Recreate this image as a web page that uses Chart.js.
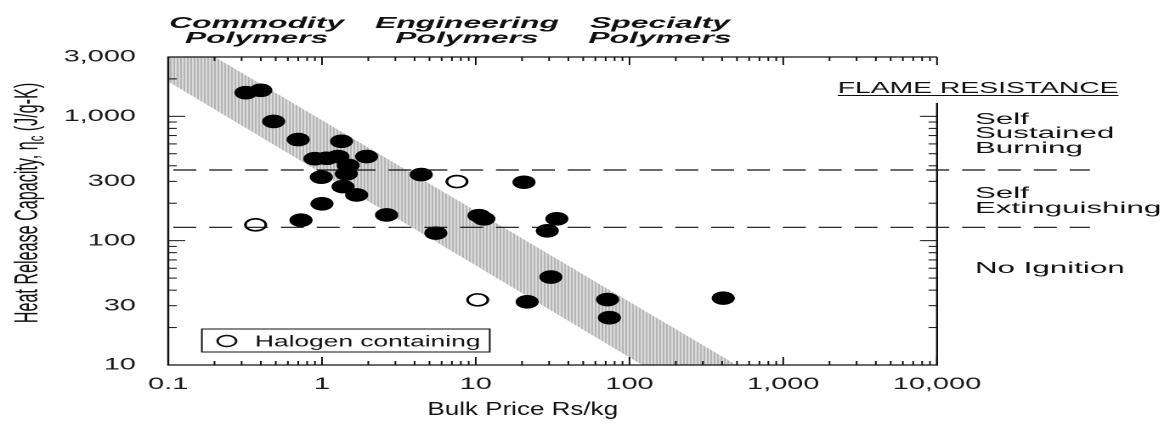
<!DOCTYPE html>
<html>
<head>
<meta charset="utf-8">
<script src="https://cdn.jsdelivr.net/npm/chart.js@4.4.1/dist/chart.umd.min.js"></script>
<style>
  html, body { margin: 0; padding: 0; background: #fff; overflow: hidden; }
  /* the reference picture is stretched sideways, so the chart is drawn narrow and widened */
  #wrap { width: 685px; height: 425px; transform: scaleX(1.6993); transform-origin: 0 0; }
</style>
</head>
<body>
<div id="wrap"><canvas id="chart"></canvas></div>
<script>
// polymers: bulk price (Rs/kg) vs heat release capacity (J/g-K)
const filledPoints = [
  {x: 0.32, y: 1550}, {x: 0.40, y: 1620}, {x: 0.485, y: 910}, {x: 0.70, y: 650},
  {x: 1.34, y: 630}, {x: 0.90, y: 456}, {x: 1.07, y: 460}, {x: 1.27, y: 475},
  {x: 1.95, y: 475}, {x: 1.48, y: 403}, {x: 1.44, y: 345}, {x: 0.99, y: 324},
  {x: 4.42, y: 340}, {x: 1.37, y: 272}, {x: 1.68, y: 233}, {x: 1.0, y: 198},
  {x: 2.63, y: 161}, {x: 0.73, y: 146}, {x: 5.5, y: 115}, {x: 20.6, y: 295},
  {x: 10.5, y: 159}, {x: 11.3, y: 150}, {x: 33.7, y: 150}, {x: 29.2, y: 120},
  {x: 30.8, y: 51}, {x: 21.6, y: 32.2}, {x: 72, y: 33.6}, {x: 74, y: 24},
  {x: 407, y: 34.5}
];
const halogenPoints = [{x: 0.37, y: 134}, {x: 7.55, y: 299}, {x: 10.3, y: 33.4}];
const halogenLabel = 'Halogen containing';

// shaded price/performance band
const bandUpper = [{x: 0.1, y: 5000}, {x: 1000, y: 6}];
const bandLower = [{x: 0.1, y: 1900}, {x: 1000, y: 2.1}];

// flame resistance thresholds
const thresholds = [370, 128];

const xTicks = [0.1, 1, 10, 100, 1000, 10000];
const xTickLabels = ['0.1', '1', '10', '100', '1,000', '10,000'];
const yTicks = [10, 30, 100, 300, 1000, 3000];
const yTickLabels = ['10', '30', '100', '300', '1,000', '3,000'];

const classNames = [['Commodity', 'Polymers'], ['Engineering', 'Polymers'], ['Specialty', 'Polymers']];
const zoneTitle = 'FLAME RESISTANCE';
const zoneLines = ['Self', 'Sustained', 'Burning', 'Self', 'Extinguishing', 'No Ignition'];
const xTitle = 'Bulk Price Rs/kg';
const yTitle = ['Heat Release Capacity, η', 'c', ' (J/g-K)'];

const FONT = '"Liberation Sans", Arial, sans-serif';
Chart.defaults.font.family = FONT;
Chart.defaults.color = '#1a1a1a';

function stripes() {
  const c = document.createElement('canvas');
  c.width = 2; c.height = 1;
  const g = c.getContext('2d');
  g.fillStyle = '#ececec'; g.fillRect(0, 0, 2, 1);
  g.fillStyle = '#a2a2a2'; g.fillRect(0, 0, 1, 1);
  return g.createPattern(c, 'repeat');
}

function logTicks(lo, hi) {
  const out = [];
  for (let e = Math.floor(Math.log10(lo)); e <= Math.ceil(Math.log10(hi)); e++) {
    for (let m = 1; m <= 9; m++) {
      const v = m * Math.pow(10, e);
      if (v >= lo * 0.999 && v <= hi * 1.001) out.push({v: v, major: m === 1});
    }
  }
  return out;
}

function text(ctx, s, x, y, font, sx, align) {
  ctx.save();
  ctx.font = font;
  ctx.textAlign = align || 'left';
  ctx.textBaseline = 'alphabetic';
  ctx.translate(x, y);
  ctx.scale(sx, 1);
  ctx.fillText(s, 0, 0);
  ctx.restore();
}

function seg(ctx, x1, y1, x2, y2) {
  ctx.beginPath(); ctx.moveTo(x1, y1); ctx.lineTo(x2, y2); ctx.stroke();
}

const decor = {
  id: 'decor',
  afterDraw(chart) {
    const ctx = chart.ctx, a = chart.chartArea, x = chart.scales.x, y = chart.scales.y;
    const rightTop = 103;
    ctx.save();
    ctx.strokeStyle = '#111';
    ctx.fillStyle = '#111';
    ctx.lineWidth = 1.2;

    // dashed threshold lines run past the right axis
    ctx.setLineDash([13.5, 7.6]);
    thresholds.forEach(v => {
      const py = y.getPixelForValue(v);
      seg(ctx, a.left + 3, py, a.right + 90, py);
    });
    ctx.setLineDash([]);

    // frame, right side broken under the heading
    ctx.beginPath();
    ctx.moveTo(a.right, a.top); ctx.lineTo(a.left, a.top); ctx.lineTo(a.left, a.bottom);
    ctx.lineTo(a.right, a.bottom); ctx.lineTo(a.right, rightTop);
    ctx.stroke();

    ctx.lineWidth = 1;
    logTicks(x.min, x.max).forEach(t => {
      const px = x.getPixelForValue(t.v), len = t.major ? 8 : 4;
      seg(ctx, px, a.bottom, px, a.bottom - len);
      seg(ctx, px, a.top, px, a.top + len);
    });
    logTicks(y.min, y.max).forEach(t => {
      const py = y.getPixelForValue(t.v), len = t.major ? 10 : 5;
      seg(ctx, a.left, py, a.left + len, py);
      if (py > rightTop) seg(ctx, a.right, py, a.right - len, py);
    });

    // polymer class headings
    const hf = 'italic bold 16px ' + FONT;
    [151, 274.8, 388.4].forEach((cx, i) => {
      text(ctx, classNames[i][0], cx, 28, hf, 1.17, 'center');
      text(ctx, classNames[i][1], cx, 43, hf, 1.17, 'center');
    });

    // flame resistance zones
    const tf = '16px ' + FONT;
    text(ctx, zoneTitle, 493, 93, tf, 1.04);
    ctx.font = tf;
    const tw = ctx.measureText(zoneTitle).width * 1.04;
    seg(ctx, 493, 95.5, 493 + tw, 95.5);
    const zf = '15.5px ' + FONT;
    [124, 138, 153, 198, 213, 273].forEach((by, i) => text(ctx, zoneLines[i], 573.7, by, zf, 1.19));

    // legend
    ctx.lineWidth = 1;
    ctx.strokeRect(118.8, 329, 169.4, 23);
    ctx.beginPath();
    ctx.arc(133.5, 341, 5.5, 0, Math.PI * 2);
    ctx.fillStyle = '#fff'; ctx.fill();
    ctx.lineWidth = 1.4; ctx.stroke();
    ctx.fillStyle = '#111';
    text(ctx, chart.data.datasets[3].label, 150, 346.5, '15.5px ' + FONT, 1.0);

    // axis titles
    text(ctx, xTitle, 307.6, 415, '18px ' + FONT, 0.85, 'center');

    ctx.save();
    ctx.translate(21.8, 203);
    ctx.rotate(-Math.PI / 2);
    ctx.scale(0.85, 1);
    const big = '19px ' + FONT, small = '13px ' + FONT;
    ctx.font = big; const w1 = ctx.measureText(yTitle[0]).width, w3 = ctx.measureText(yTitle[2]).width;
    ctx.font = small; const w2 = ctx.measureText(yTitle[1]).width;
    let sx = -(w1 + w2 + w3) / 2;
    ctx.textBaseline = 'alphabetic';
    ctx.font = big; ctx.fillText(yTitle[0], sx, 0); sx += w1;
    ctx.font = small; ctx.fillText(yTitle[1], sx, 3.5); sx += w2;
    ctx.font = big; ctx.fillText(yTitle[2], sx, 0);
    ctx.restore();

    ctx.restore();
  }
};

new Chart(document.getElementById('chart'), {
  type: 'scatter',
  data: {
    datasets: [
      {
        type: 'line', data: bandUpper, order: 10, pointRadius: 0, borderWidth: 0,
        fill: '+1', backgroundColor: stripes()
      },
      {
        type: 'line', data: bandLower, order: 11, pointRadius: 0, borderWidth: 0, fill: false
      },
      {
        data: filledPoints, order: 1, pointRadius: 6.8, borderWidth: 0,
        backgroundColor: '#000'
      },
      {
        label: halogenLabel, data: halogenPoints, order: 0, pointRadius: 6,
        borderWidth: 1.6, borderColor: '#000', backgroundColor: '#fff'
      }
    ]
  },
  options: {
    responsive: true,
    maintainAspectRatio: false,
    animation: false,
    devicePixelRatio: 2,
    events: [],
    layout: { padding: { top: 57, right: 133.6, bottom: 0, left: 0 } },
    plugins: { legend: { display: false }, tooltip: { enabled: false } },
    scales: {
      x: {
        type: 'logarithmic', min: 0.1, max: 10000,
        grid: { display: false }, border: { display: false },
        afterBuildTicks: s => { s.ticks = xTicks.map(v => ({value: v})); },
        afterFit: s => { s.height = 60; },
        ticks: {
          autoSkip: false, maxRotation: 0, padding: 1,
          font: { size: 17 }, color: '#1a1a1a',
          callback: (v, i) => xTickLabels[i]
        }
      },
      y: {
        type: 'logarithmic', min: 10, max: 3000,
        grid: { display: false }, border: { display: false },
        afterBuildTicks: s => { s.ticks = yTicks.map(v => ({value: v})); },
        afterFit: s => { s.width = 99; },
        ticks: {
          autoSkip: false, padding: 11,
          font: { size: 17 }, color: '#1a1a1a',
          callback: (v, i) => yTickLabels[i]
        }
      }
    }
  },
  plugins: [decor]
});
</script>
</body>
</html>
